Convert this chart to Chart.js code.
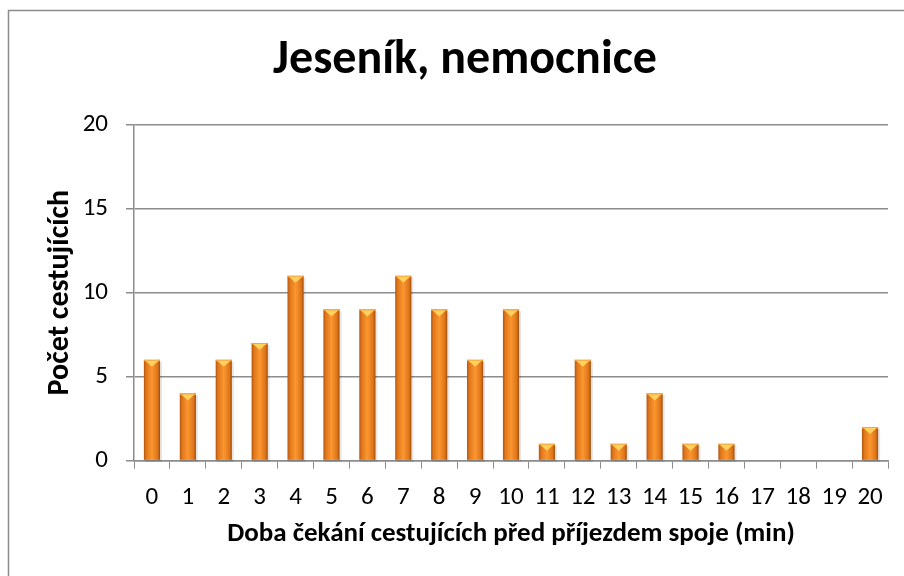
<!DOCTYPE html>
<html>
<head>
<meta charset="utf-8">
<script src="https://cdn.jsdelivr.net/npm/chart.js@4.4.0/dist/chart.umd.min.js"></script>
<style>
  html, body { margin: 0; padding: 0; background: #fff; }
  #wrap { width: 904px; height: 576px; position: relative; }
</style>
</head>
<body>
<div id="wrap"><canvas id="graf"></canvas></div>
<script>
// minuty čekání a počet cestujících
const minuty = ['0','1','2','3','4','5','6','7','8','9','10','11','12','13','14','15','16','17','18','19','20'];
const pocty = [6, 4, 6, 7, 11, 9, 9, 11, 9, 6, 9, 1, 6, 1, 4, 1, 1, 0, 0, 0, 2];
const yTicks = [0, 5, 10, 15, 20];

const FONT = "Carlito, Calibri, Lato, 'Open Sans', sans-serif";

// ramecek kolem celeho grafu
const ramecek = {
  id: 'ramecek',
  beforeDraw(chart) {
    const c = chart.ctx;
    c.save();
    c.fillStyle = '#fff';
    c.fillRect(0, 0, chart.width, chart.height);
    c.strokeStyle = '#8c8c8c';
    c.lineWidth = 1.5;
    c.strokeRect(8.5, 10.5, 1200, 1200);
    c.restore();
  }
};

// sloupce s prechodem a trojuhelnikem nahore (jako v Excelu)
const sloupce = {
  id: 'sloupce',
  afterDatasetsDraw(chart) {
    const c = chart.ctx;
    const meta = chart.getDatasetMeta(0);
    meta.data.forEach((bar, i) => {
      if (!pocty[i]) return;
      const p = bar.getProps(['x', 'y', 'base', 'width'], true);
      const l = p.x - p.width / 2, r = p.x + p.width / 2;
      const h = p.base - p.y;
      c.save();
      // stin
      c.fillStyle = 'rgba(0,0,0,0.10)';
      c.fillRect(l + 1, p.y + 2, p.width + 1, h);
      const g = c.createLinearGradient(l, 0, r, 0);
      g.addColorStop(0, '#b35410');
      g.addColorStop(0.15, '#e0771a');
      g.addColorStop(0.5, '#fb9630');
      g.addColorStop(0.85, '#de7519');
      g.addColorStop(1, '#a04c0c');
      c.fillStyle = g;
      c.fillRect(l, p.y, p.width, h);
      // horni hrana
      const t = Math.min(6, h / 2);
      c.fillStyle = '#f6a640';
      c.fillRect(l, p.y, p.width, 1.5);
      c.beginPath();
      c.moveTo(l + 1.5, p.y + 1);
      c.lineTo(r - 1.5, p.y + 1);
      c.lineTo(p.x, p.y + 1 + t);
      c.closePath();
      c.fillStyle = '#ffd25e';
      c.fill();
      c.restore();
    });
  }
};

new Chart(document.getElementById('graf').getContext('2d'), {
  type: 'bar',
  data: {
    labels: minuty,
    datasets: [{
      data: pocty,
      backgroundColor: 'rgba(0,0,0,0)',
      borderWidth: 0,
      barPercentage: 0.9,
      categoryPercentage: 0.5
    }]
  },
  options: {
    responsive: true,
    maintainAspectRatio: false,
    animation: false,
    layout: { padding: { left: 42, right: 16, top: 32, bottom: 26 } },
    plugins: {
      legend: { display: false },
      tooltip: { enabled: false },
      title: {
        display: true,
        text: 'Jeseník, nemocnice',
        color: '#000',
        font: { family: FONT, size: 48, weight: 'bold' },
        padding: { top: 0, bottom: 35 }
      }
    },
    scales: {
      x: {
        grid: {
          display: true,
          drawOnChartArea: false,
          drawTicks: true,
          tickLength: 8,
          color: '#8c8c8c',
          offset: true
        },
        border: { color: '#8c8c8c', width: 1.5 },
        ticks: {
          color: '#000',
          font: { family: FONT, size: 25 },
          padding: 14,
          maxRotation: 0,
          autoSkip: false
        },
        title: {
          display: true,
          text: 'Doba čekání cestujících před příjezdem spoje (min)',
          color: '#000',
          font: { family: FONT, size: 27, weight: 'bold' },
          padding: { top: -9, bottom: 0 }
        }
      },
      y: {
        min: 0,
        max: 20,
        afterBuildTicks(axis) { axis.ticks = yTicks.map(v => ({ value: v })); },
        afterFit(axis) { axis.width = 92; },
        grid: {
          color: '#8c8c8c',
          lineWidth: 1.5,
          tickLength: 8
        },
        border: { color: '#8c8c8c', width: 1.5 },
        ticks: {
          color: '#000',
          font: { family: FONT, size: 25 },
          padding: 18
        },
        title: {
          display: true,
          text: 'Počet cestujících',
          color: '#000',
          font: { family: FONT, size: 30, weight: 'bold' },
          padding: { top: 0, bottom: 7 }
        }
      }
    }
  },
  plugins: [ramecek, sloupce]
});
</script>
</body>
</html>
